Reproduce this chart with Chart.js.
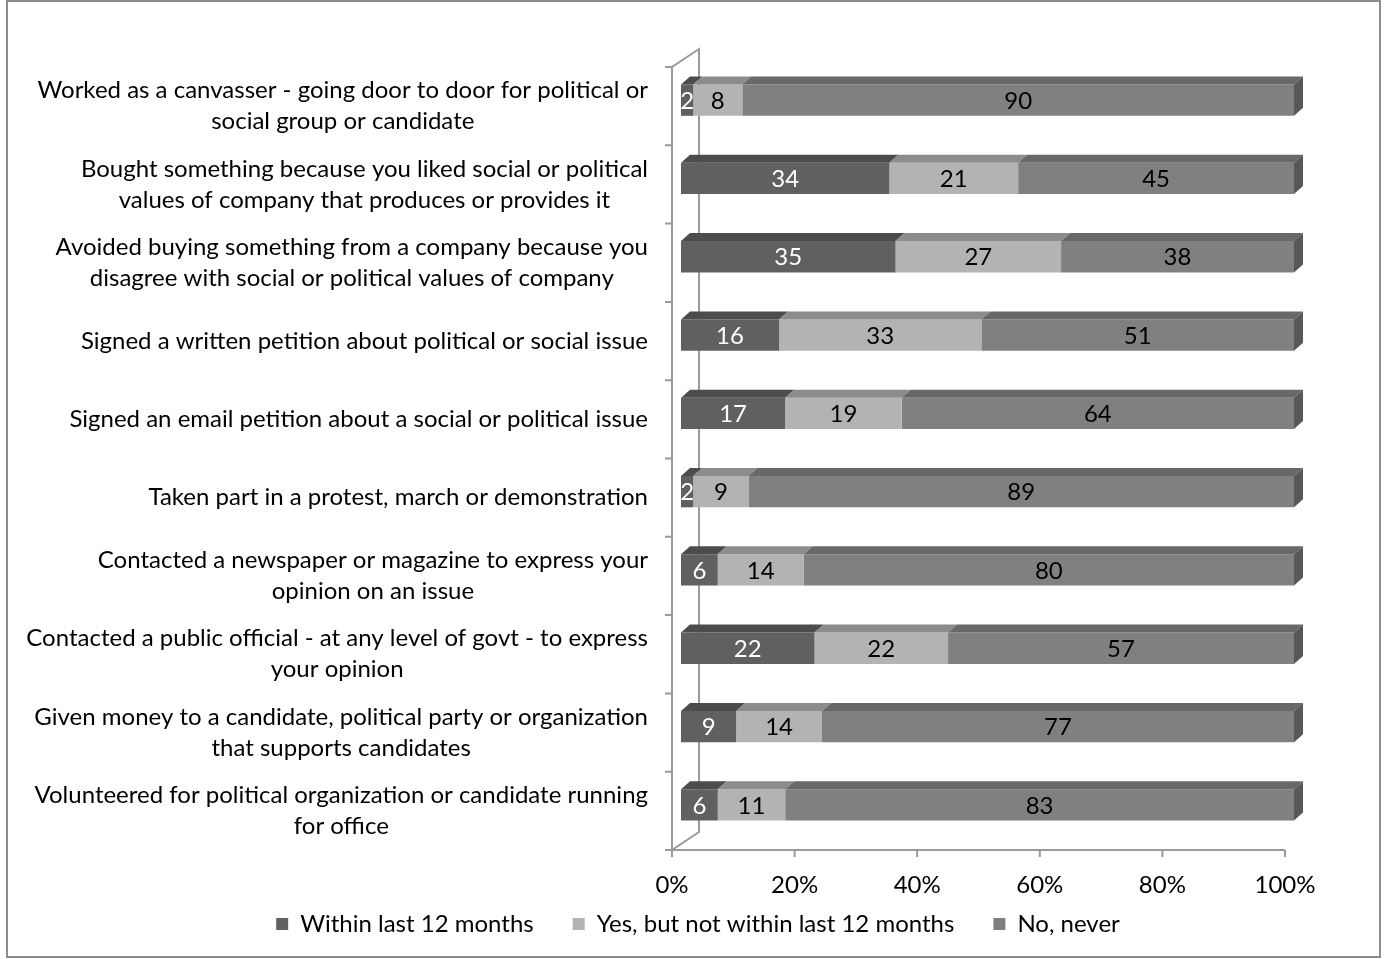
<!DOCTYPE html>
<html lang="en">
<head>
<meta charset="UTF-8" />
<title>Political and civic activities</title>
<script src="https://cdn.jsdelivr.net/npm/chart.js@4.4.0/dist/chart.umd.min.js"></script>
<style>
  html, body { margin: 0; padding: 0; background: #fff; }
  .contenedor { position: relative; width: 1385px; height: 959px; }
</style>
</head>
<body>
<div class="contenedor"><canvas id="grafico"></canvas></div>
<script>
var categorias = [
  ["Worked as a canvasser - going door to door for political or", "social group or candidate"],
  ["Bought something because you liked social or political", "values of company that produces or provides it"],
  ["Avoided buying something from a company because you", "disagree with social or political values of company"],
  ["Signed a written petition about political or social issue"],
  ["Signed an email petition about a social or political issue"],
  ["Taken part in a protest, march or demonstration"],
  ["Contacted a newspaper or magazine to express your", "opinion on an issue"],
  ["Contacted a public official - at any level of govt - to express", "your opinion"],
  ["Given money to a candidate, political party or organization", "that supports candidates"],
  ["Volunteered for political organization or candidate running", "for office"]
];
var series = ["Within last 12 months", "Yes, but not within last 12 months", "No, never"];
var dentro12 = [2, 34, 35, 16, 17, 2, 6, 22, 9, 6];
var antes12 = [8, 21, 27, 33, 19, 9, 14, 22, 14, 11];
var nunca = [90, 45, 38, 51, 64, 89, 80, 57, 77, 83];
var ticksX = [0, 20, 40, 60, 80, 100];

var colFrente = ["#606060", "#b3b3b3", "#808080"];
var colArriba = ["#4c4c4c", "#8c8c8c", "#686868"];
var colLado = "#585858";
var colTexto = ["#ffffff", "#000000", "#000000"];
var fuente = "Lato";
var tam = 24;

// 100% stacked: every row is scaled to its own total
var crudos = [dentro12, antes12, nunca];
var totales = dentro12.map(function (v, i) { return v + antes12[i] + nunca[i]; });
var datasets = crudos.map(function (arr, k) {
  return {
    label: series[k],
    data: arr.map(function (v, i) { return v / totales[i] * 100; }),
    crudo: arr,
    backgroundColor: colFrente[k],
    borderWidth: 0,
    categoryPercentage: 1,
    barPercentage: 0.4
  };
});

// offset of the front plane from the bars, and depth of the walls
var ox = -9, oy = 6;
var px = 27, py = -18;
// depth of each bar
var bx = 9, by = -8;

var marco = {
  id: "marco",
  beforeDraw(chart) {
    const ctx = chart.ctx;
    ctx.save();
    ctx.fillStyle = "#fff";
    ctx.fillRect(0, 0, chart.width, chart.height);
    ctx.strokeStyle = "#8c8c8c";
    ctx.lineWidth = 2;
    ctx.strokeRect(7, 1, 1373, 956);
    ctx.restore();
  }
};

var paredes = {
  id: "paredes",
  beforeDatasetsDraw(chart) {
    const ctx = chart.ctx;
    const sx = chart.scales.x, sy = chart.scales.y;
    const n = categorias.length;
    const paso = sy.getPixelForTick(1) - sy.getPixelForTick(0);
    const x0 = sx.getPixelForValue(0) + ox;
    const x1 = sx.getPixelForValue(100) + ox;
    const yTop = sy.getPixelForTick(0) - paso / 2 + oy;
    const yBot = sy.getPixelForTick(n - 1) + paso / 2 + oy;
    ctx.save();
    ctx.strokeStyle = "#9a9a9a";
    ctx.lineWidth = 2;
    ctx.beginPath();
    // front axis, top edge, back wall
    ctx.moveTo(x0, yBot);
    ctx.lineTo(x0, yTop);
    ctx.lineTo(x0 + px, yTop + py);
    ctx.lineTo(x0 + px, yBot + py);
    ctx.lineTo(x0, yBot);
    // floor front edge
    ctx.lineTo(x1, yBot);
    // ticks on the category axis
    for (let i = 0; i <= n; i++) {
      const y = yTop + i * paso;
      ctx.moveTo(x0 - 7, y);
      ctx.lineTo(x0, y);
    }
    // ticks on the value axis
    ticksX.forEach(function (v) {
      const x = sx.getPixelForValue(v) + ox;
      ctx.moveTo(x, yBot);
      ctx.lineTo(x, yBot + 7);
    });
    ctx.stroke();
    ctx.restore();
  }
};

var barras3d = {
  id: "barras3d",
  afterDatasetsDraw(chart) {
    const ctx = chart.ctx;
    ctx.save();
    chart.data.datasets.forEach(function (ds, k) {
      const meta = chart.getDatasetMeta(k);
      meta.data.forEach(function (el, i) {
        const p = el.getProps(["x", "y", "base", "height"], true);
        const l = Math.min(p.x, p.base), r = Math.max(p.x, p.base);
        const t = p.y - p.height / 2, b = p.y + p.height / 2;
        ctx.fillStyle = colArriba[k];
        ctx.beginPath();
        ctx.moveTo(l, t);
        ctx.lineTo(r, t);
        ctx.lineTo(r + bx, t + by);
        ctx.lineTo(l + bx, t + by);
        ctx.closePath();
        ctx.fill();
        if (k === chart.data.datasets.length - 1) {
          ctx.fillStyle = colLado;
          ctx.beginPath();
          ctx.moveTo(r, t);
          ctx.lineTo(r + bx, t + by);
          ctx.lineTo(r + bx, b + by);
          ctx.lineTo(r, b);
          ctx.closePath();
          ctx.fill();
        }
      });
    });
    // value labels
    ctx.font = tam + "px " + fuente;
    ctx.textAlign = "center";
    ctx.textBaseline = "middle";
    chart.data.datasets.forEach(function (ds, k) {
      const meta = chart.getDatasetMeta(k);
      meta.data.forEach(function (el, i) {
        const p = el.getProps(["x", "y", "base"], true);
        ctx.fillStyle = colTexto[k];
        ctx.fillText(String(ds.crudo[i]), (p.x + p.base) / 2, p.y + 1);
      });
    });
    ctx.restore();
  }
};

var etiquetas = {
  id: "etiquetas",
  afterDraw(chart) {
    const ctx = chart.ctx;
    const sx = chart.scales.x, sy = chart.scales.y;
    const derecha = sx.getPixelForValue(0) + ox - 24;
    const alto = 31;
    ctx.save();
    ctx.font = tam + "px " + fuente;
    ctx.fillStyle = "#000";
    ctx.textAlign = "center";
    ctx.textBaseline = "middle";
    categorias.forEach(function (lineas, i) {
      const ancho = Math.max.apply(null, lineas.map(function (s) { return ctx.measureText(s).width; }));
      const cx = derecha - ancho / 2;
      const cy = sy.getPixelForTick(i) + oy;
      lineas.forEach(function (s, j) {
        ctx.fillText(s, cx, cy + (j - (lineas.length - 1) / 2) * alto);
      });
    });
    ctx.restore();
  }
};

var padIzq = 102;

new Chart(document.getElementById("grafico"), {
  type: "bar",
  data: { labels: categorias.map(function (c) { return c.join(" "); }), datasets: datasets },
  options: {
    responsive: true,
    maintainAspectRatio: false,
    animation: false,
    indexAxis: "y",
    layout: { padding: { left: padIzq, right: 91, top: 61, bottom: 13 } },
    scales: {
      x: {
        stacked: true,
        min: 0,
        max: 100,
        grid: { display: false },
        border: { display: false },
        afterBuildTicks: function (s) { s.ticks = ticksX.map(function (v) { return { value: v }; }); },
        afterFit: function (s) { s.height = 53; },
        ticks: {
          callback: function (v) { return v + "%"; },
          labelOffset: -9,
          padding: 19,
          color: "#000",
          font: { family: fuente, size: tam }
        }
      },
      y: {
        stacked: true,
        grid: { display: false },
        border: { display: false },
        ticks: { display: false },
        afterFit: function (s) { s.width = 681 - padIzq; }
      }
    },
    plugins: {
      legend: {
        position: "bottom",
        labels: {
          boxWidth: 12,
          boxHeight: 12,
          padding: 15,
          color: "#000",
          font: { family: fuente, size: tam },
          generateLabels: function (chart) {
            var items = Chart.defaults.plugins.legend.labels.generateLabels(chart);
            // wider gap between the legend entries
            items.forEach(function (it, i) {
              if (i < items.length - 1) it.text += "\u2002\u2002";
            });
            return items;
          }
        }
      },
      tooltip: { enabled: false }
    }
  },
  plugins: [marco, paredes, barras3d, etiquetas]
});
</script>
</body>
</html>
